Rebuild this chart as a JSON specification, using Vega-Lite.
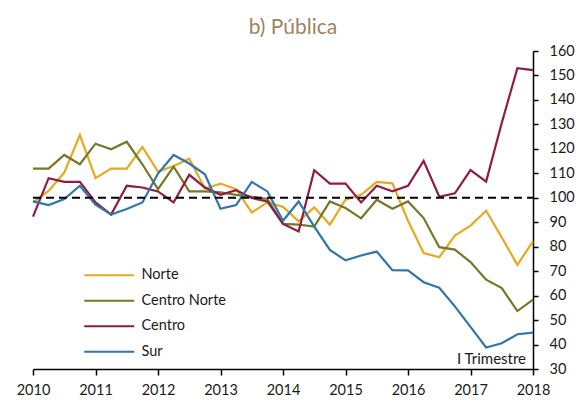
{
  "$schema": "https://vega.github.io/schema/vega-lite/v6.json",
  "width": 500,
  "height": 318,
  "autosize": {"type": "none"},
  "padding": {"left": 33, "top": 51, "right": 51, "bottom": 33},
  "title": {"text": "b) Pública", "font": "Lato", "fontSize": 21, "fontWeight": "normal", "color": "#9C8462", "dx": 10, "offset": 5},
  "config": {"view": {"stroke": null}, "font": "Lato", "axis": {"labelOverlap": false, "labelFlush": false}},
  "datasets": {
    "series": [
      {"t": 2010.00, "Norte": 98.1, "Centro Norte": 111.9, "Centro": 92.3, "Sur": 98.5},
      {"t": 2010.25, "Norte": 102.8, "Centro Norte": 111.9, "Centro": 108.0, "Sur": 97.0},
      {"t": 2010.50, "Norte": 110.3, "Centro Norte": 117.5, "Centro": 106.5, "Sur": 99.5},
      {"t": 2010.75, "Norte": 125.6, "Centro Norte": 113.7, "Centro": 106.5, "Sur": 104.9},
      {"t": 2011.00, "Norte": 108.0, "Centro Norte": 122.1, "Centro": 98.1, "Sur": 97.2},
      {"t": 2011.25, "Norte": 111.9, "Centro Norte": 119.8, "Centro": 93.1, "Sur": 93.1},
      {"t": 2011.50, "Norte": 111.9, "Centro Norte": 122.9, "Centro": 104.9, "Sur": 95.4},
      {"t": 2011.75, "Norte": 120.8, "Centro Norte": 113.7, "Centro": 104.2, "Sur": 98.1},
      {"t": 2012.00, "Norte": 110.7, "Centro Norte": 103.5, "Centro": 102.6, "Sur": 109.9},
      {"t": 2012.25, "Norte": 113.0, "Centro Norte": 112.7, "Centro": 98.1, "Sur": 117.5},
      {"t": 2012.50, "Norte": 116.0, "Centro Norte": 102.6, "Centro": 109.4, "Sur": 114.0},
      {"t": 2012.75, "Norte": 103.8, "Centro Norte": 102.6, "Centro": 104.2, "Sur": 109.6},
      {"t": 2013.00, "Norte": 105.8, "Centro Norte": 102.2, "Centro": 101.2, "Sur": 95.5},
      {"t": 2013.25, "Norte": 103.5, "Centro Norte": 101.2, "Centro": 103.1, "Sur": 97.0},
      {"t": 2013.50, "Norte": 94.0, "Centro Norte": 100.4, "Centro": 99.9, "Sur": 106.5},
      {"t": 2013.75, "Norte": 98.1, "Centro Norte": 99.5, "Centro": 98.5, "Sur": 102.6},
      {"t": 2014.00, "Norte": 96.3, "Centro Norte": 89.3, "Centro": 89.3, "Sur": 90.6},
      {"t": 2014.25, "Norte": 90.4, "Centro Norte": 89.0, "Centro": 86.2, "Sur": 98.5},
      {"t": 2014.50, "Norte": 96.1, "Centro Norte": 88.2, "Centro": 111.3, "Sur": 88.2},
      {"t": 2014.75, "Norte": 89.0, "Centro Norte": 98.5, "Centro": 105.8, "Sur": 78.7},
      {"t": 2015.00, "Norte": 99.2, "Centro Norte": 95.8, "Centro": 105.8, "Sur": 74.4},
      {"t": 2015.25, "Norte": 101.2, "Centro Norte": 91.6, "Centro": 98.1, "Sur": 76.4},
      {"t": 2015.50, "Norte": 106.5, "Centro Norte": 99.2, "Centro": 104.9, "Sur": 78.0},
      {"t": 2015.75, "Norte": 105.9, "Centro Norte": 95.5, "Centro": 102.6, "Sur": 70.4},
      {"t": 2016.00, "Norte": 90.6, "Centro Norte": 98.5, "Centro": 104.9, "Sur": 70.3},
      {"t": 2016.25, "Norte": 77.4, "Centro Norte": 91.7, "Centro": 115.1, "Sur": 65.5},
      {"t": 2016.50, "Norte": 75.7, "Centro Norte": 79.8, "Centro": 100.4, "Sur": 63.2},
      {"t": 2016.75, "Norte": 84.5, "Centro Norte": 78.8, "Centro": 101.8, "Sur": 55.6},
      {"t": 2017.00, "Norte": 88.6, "Centro Norte": 73.7, "Centro": 111.3, "Sur": 47.2},
      {"t": 2017.25, "Norte": 94.7, "Centro Norte": 66.5, "Centro": 106.6, "Sur": 38.8},
      {"t": 2017.50, "Norte": 83.8, "Centro Norte": 63.1, "Centro": 130.6, "Sur": 40.5},
      {"t": 2017.75, "Norte": 72.6, "Centro Norte": 53.7, "Centro": 153.0, "Sur": 44.2},
      {"t": 2018.00, "Norte": 82.2, "Centro Norte": 58.4, "Centro": 152.2, "Sur": 44.9}
    ],
    "ref": [{"t": 2010, "v": 100}, {"t": 2018, "v": 100}],
    "note": [{"t": 2018, "v": 34.1, "label": "I Trimestre"}]
  },
  "encoding": {
    "x": {
      "field": "t", "type": "quantitative",
      "scale": {"domain": [2010, 2018], "nice": false, "zero": false},
      "axis": {
        "values": [2010, 2011, 2012, 2013, 2014, 2015, 2016, 2017, 2018],
        "format": "d", "title": null, "grid": false,
        "domainColor": "#000000", "domainWidth": 1.5,
        "tickColor": "#000000", "tickWidth": 1.5, "tickSize": 6,
        "labelPadding": 8, "labelFont": "Lato", "labelFontSize": 14.5, "labelColor": "#1a1a1a",
        "labelFlush": false, "labelOverlap": false
      }
    },
    "y": {
      "field": "v", "type": "quantitative",
      "scale": {"domain": [30, 160], "nice": false, "zero": false},
      "axis": {
        "orient": "right",
        "values": [30, 40, 50, 60, 70, 80, 90, 100, 110, 120, 130, 140, 150, 160],
        "title": null, "grid": false,
        "domainColor": "#000000", "domainWidth": 1.5,
        "tickColor": "#000000", "tickWidth": 1.5, "tickSize": 5,
        "labelPadding": 11, "labelFont": "Lato", "labelFontSize": 14.5, "labelColor": "#1a1a1a",
        "labelOverlap": false, "labelFlush": false, "labelBound": false, "labelSeparation": 0
      }
    }
  },
  "layer": [
    {
      "data": {"name": "series"},
      "transform": [{"fold": ["Norte", "Centro Norte", "Centro", "Sur"], "as": ["serie", "v"]}],
      "mark": {"type": "line", "strokeWidth": 2.2, "clip": false},
      "encoding": {
        "color": {
          "field": "serie", "type": "nominal",
          "scale": {"domain": ["Norte", "Centro Norte", "Centro", "Sur"], "range": ["#E6A920", "#777729", "#8E1C43", "#2E77A8"]},
          "legend": {
            "orient": "none", "legendX": 69, "legendY": 217,
            "title": null,
            "symbolType": "M-5,0H5", "symbolSize": 100, "symbolStrokeWidth": 2,
            "labelFont": "Lato", "labelFontSize": 14.5, "labelColor": "#1a1a1a",
            "labelOffset": 25, "rowPadding": 10.5
          }
        },
        "order": {"field": "t", "type": "quantitative"}
      }
    },
    {
      "data": {"name": "ref"},
      "mark": {"type": "line", "stroke": "#000000", "strokeWidth": 2, "strokeDash": [8, 5]},
      "encoding": {}
    },
    {
      "data": {"name": "note"},
      "mark": {"type": "text", "align": "right", "baseline": "middle", "dx": -7, "font": "Lato", "fontSize": 15, "color": "#1a1a1a"},
      "encoding": {
        "text": {"field": "label"}
      }
    }
  ]
}
